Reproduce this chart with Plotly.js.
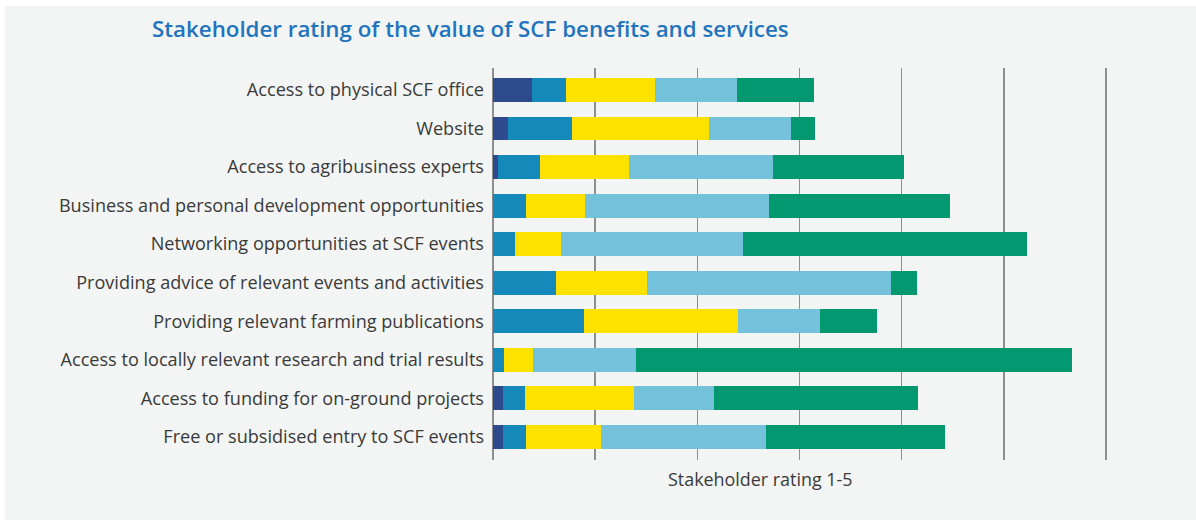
<!DOCTYPE html>
<html>
<head>
<meta charset="utf-8">
<script src="https://cdn.plot.ly/plotly-3.0.1.min.js"></script>
<style>
html,body{margin:0;padding:0;background:#ffffff;}
#chart{width:1196px;height:520px;}
</style>
</head>
<body>
<div id="chart"></div>
<script>
const categories = [
  "Access to physical SCF office",
  "Website",
  "Access to agribusiness experts",
  "Business and personal development opportunities",
  "Networking opportunities at SCF events",
  "Providing advice of relevant events and activities",
  "Providing relevant farming publications",
  "Access to locally relevant research and trial results",
  "Access to funding for on-ground projects",
  "Free or subsidised entry to SCF events"
];
const rating1 = [3.8, 1.5, 0.5, 0.0, 0.0, 0.0, 0.0, 0.0, 1.0, 1.0];
const rating2 = [3.3, 6.2, 4.1, 3.2, 2.2, 6.2, 8.9, 1.1, 2.1, 2.2];
const rating3 = [8.8, 13.4, 8.7, 5.8, 4.5, 8.9, 15.1, 2.8, 10.7, 7.4];
const rating4 = [8.0, 8.1, 14.1, 18.0, 17.8, 23.9, 8.0, 10.1, 7.8, 16.1];
const rating5 = [7.5, 2.3, 12.8, 17.7, 27.8, 2.5, 5.6, 42.7, 20.0, 17.5];
const seriesNames = ["1", "2", "3", "4", "5"];
const colors = ["#2d4b8c", "#1589b9", "#fde200", "#73c1db", "#039870"];
const xAxisTitle = "Stakeholder rating 1-5";

const series = [rating1, rating2, rating3, rating4, rating5];
const traces = series.map((vals, i) => ({
  type: "bar",
  orientation: "h",
  name: seriesNames[i],
  y: categories,
  x: vals,
  marker: {color: colors[i], line: {width: 0}},
  hoverinfo: "x+y"
}));

const FONT = "'Open Sans', Lato, sans-serif";
const layout = {
  width: 1196,
  height: 520,
  barmode: "stack",
  bargap: 0.38,
  showlegend: false,
  paper_bgcolor: "#f2f5f3",
  plot_bgcolor: "rgba(0,0,0,0)",
  margin: {l: 493, r: 88, t: 68, b: 60},
  font: {family: FONT, color: "#3a3a3a", size: 18},
  title: {
    text: "Stakeholder rating of the value of SCF benefits and services",
    font: {family: FONT, size: 22.3, color: "#1f74bd", weight: 600},
    x: 152/1196, xanchor: "left", xref: "container",
    y: 1 - 29/520, yanchor: "middle", yref: "container"
  },
  xaxis: {
    range: [0, 60.2],
    dtick: 10,
    showticklabels: false,
    showgrid: true,
    gridcolor: "#8e8e8e",
    gridwidth: 1.5,
    zeroline: true,
    zerolinecolor: "#8e8e8e",
    zerolinewidth: 1.5,
    ticks: "",
    fixedrange: true
  },
  yaxis: {
    type: "category",
    range: [9.6, -0.57],
    showgrid: false,
    zeroline: false,
    ticks: "",
    ticklabelstandoff: 8,
    tickfont: {family: FONT, size: 18.1, color: "#3a3a3a"},
    automargin: false,
    fixedrange: true
  },
  annotations: [
    {text: xAxisTitle, xref: "paper", yref: "paper", x: (760 - 493)/615, y: -19/392, xanchor: "center", yanchor: "middle", showarrow: false, font: {family: FONT, size: 17.9, color: "#3a3a3a"}}
  ],
  shapes: [
    {type: "rect", xref: "paper", yref: "paper", x0: -493/615, x1: 1 + 88/615, y0: 1 + 62/392, y1: 1 + 68/392, fillcolor: "#ffffff", line: {width: 0}, layer: "below"},
    {type: "rect", xref: "paper", yref: "paper", x0: -493/615, x1: -488/615, y0: -60/392, y1: 1 + 68/392, fillcolor: "#ffffff", line: {width: 0}, layer: "below"}
  ]
};

Plotly.newPlot("chart", traces, layout, {displayModeBar: false, staticPlot: true});
</script>
</body>
</html>
